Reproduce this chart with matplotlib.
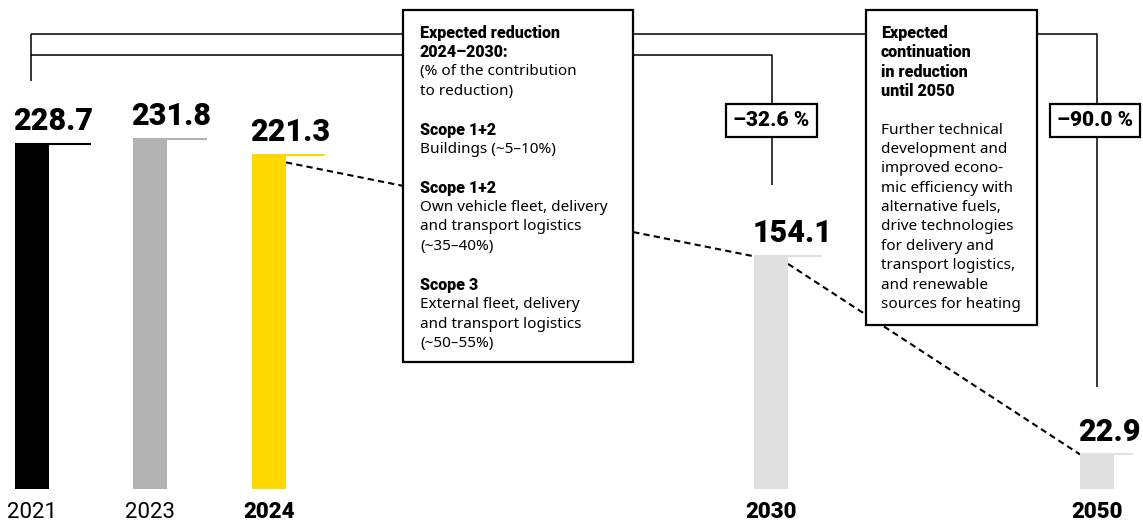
import matplotlib.pyplot as plt
from matplotlib.patches import Rectangle

plt.rcParams['font.family'] = ['Noto Sans', 'DejaVu Sans']

years = ["2021", "2023", "2024", "2030", "2050"]
values = [228.7, 231.8, 221.3, 154.1, 22.9]
value_labels = ["228.7", "231.8", "221.3", "154.1", "22.9"]
bar_colors = ["#000000", "#b2b2b2", "#ffd800", "#e0e0e0", "#e0e0e0"]
bold_years = [False, False, True, True, True]
changes = ["–32.6 %", "–90.0 %"]

box1_lines = [
    ("Expected reduction", True), ("2024–2030:", True),
    ("(% of the contribution", False), ("to reduction)", False), ("", False),
    ("Scope 1+2", True), ("Buildings (~5–10%)", False), ("", False),
    ("Scope 1+2", True), ("Own vehicle fleet, delivery", False),
    ("and transport logistics", False), ("(~35–40%)", False), ("", False),
    ("Scope 3", True), ("External fleet, delivery", False),
    ("and transport logistics", False), ("(~50–55%)", False),
]
box2_lines = [
    ("Expected", True), ("continuation", True), ("in reduction", True),
    ("until 2050", True), ("", False),
    ("Further technical", False), ("development and", False),
    ("improved econo-", False), ("mic efficiency with", False),
    ("alternative fuels,", False), ("drive technologies", False),
    ("for delivery and", False), ("transport logistics,", False),
    ("and renewable", False), ("sources for heating", False),
]

# layout in pixels
W, H = 1143, 528
base = 489
scale = 1.51
xpos = [32, 150, 269, 771, 1097]
bar_w = 34
cap_len = [76, 74, 73, 68, 53]

fig = plt.figure(figsize=(W / 100, H / 100), dpi=100)
ax = fig.add_axes([0, (H - base) / H, 1, base / H])
ax.set_xlim(0, W)
ax.set_ylim(0, base / scale)

ax.bar(xpos, values, width=bar_w, color=bar_colors, zorder=2)
lefts = [x - bar_w / 2 for x in xpos]
ax.hlines(values, lefts, [l + c for l, c in zip(lefts, cap_len)],
          colors=bar_colors, lw=1.5, zorder=2)

for l, v, lab in zip(lefts, values, value_labels):
    ax.annotate(lab, (l, v), xytext=(-1, 10), textcoords='offset points',
                ha='left', va='baseline', fontsize=22, fontweight='heavy',
                family='Roboto')

# dashed trend lines
for i in (2, 3):
    ax.plot([xpos[i] + bar_w / 2, xpos[i + 1] - bar_w / 2],
            [values[i] - 5, values[i + 1]], color='black', lw=1.5,
            ls=(0, (3, 2)), zorder=1)

ax.set_xticks(xpos, years)
ax.tick_params(axis='x', length=0, pad=9)
for lab, b in zip(ax.get_xticklabels(), bold_years):
    lab.set_fontsize(16)
    lab.set_family('Roboto')
    lab.set_fontweight('heavy' if b else 'normal')
ax.set_yticks([])
for s in ax.spines.values():
    s.set_visible(False)

# overlay in pixel coordinates for annotations
ax2 = fig.add_axes([0, 0, 1, 1])
ax2.set_xlim(0, W)
ax2.set_ylim(H, 0)
ax2.axis('off')
ax2.patch.set_alpha(0)

lk = dict(color='black', lw=1.1, solid_capstyle='butt', zorder=1)
ax2.plot([31, 31], [81, 34], **lk)
ax2.plot([31, 1097, 1097], [34, 34, 387], **lk)
ax2.plot([31, 772, 772], [55, 55, 185], **lk)

for (x, y, w, h) in [(403, 10, 230, 352), (866, 10, 171, 315),
                     (726, 104, 91, 33), (1050, 104, 90, 33)]:
    ax2.add_patch(Rectangle((x, y), w, h, fc='white', ec='black', lw=1.6,
                            zorder=3))

for x0, lines in [(420, box1_lines), (881, box2_lines)]:
    for i, (t, b) in enumerate(lines):
        if b:
            ax2.text(x0, 33 + i * 19.4, t, va='center', ha='left',
                     fontsize=11.5, fontweight='heavy', family='Roboto',
                     zorder=4)
        else:
            ax2.text(x0, 33 + i * 19.4, t, va='center', ha='left',
                     fontsize=11, zorder=4)

for cx, t in zip([771.5, 1095], changes):
    ax2.text(cx, 121, t, ha='center', va='center', fontsize=15,
             fontweight='heavy', family='Roboto', zorder=4)

fig.savefig('out.png', dpi=100)
